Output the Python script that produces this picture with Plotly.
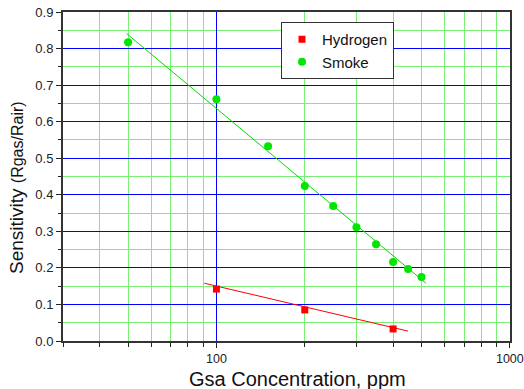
import numpy as np
import plotly.graph_objects as go

# ---- data ----
smoke_x = [50, 100, 150, 200, 250, 300, 350, 400, 450, 500]
smoke_y = [0.817, 0.661, 0.533, 0.424, 0.369, 0.311, 0.265, 0.216, 0.197, 0.175]
hydrogen_x = [100, 200, 400]
hydrogen_y = [0.142, 0.085, 0.033]
smoke_fit_x = [49.4, 518]
smoke_fit_y = [0.841, 0.158]
hydrogen_fit_x = [91, 450]
hydrogen_fit_y = [0.158, 0.027]
x_major_ticks = [100, 1000]
x_major_labels = ["100", "1000"]
x_minor_ticks = [30, 40, 50, 60, 70, 80, 90, 200, 300, 400, 500, 600, 700, 800, 900]

FONT = "Liberation Sans, Arial, sans-serif"
GREEN = "#00e600"
RED = "#ff0000"
GRID_GREEN = "rgb(120,240,120)"
GRID_BLUE = "#0000ff"

fig = go.Figure()
fig.add_trace(go.Scatter(x=smoke_fit_x, y=smoke_fit_y, mode="lines",
                         line=dict(color="#00dd00", width=1), showlegend=False, hoverinfo="skip"))
fig.add_trace(go.Scatter(x=hydrogen_fit_x, y=hydrogen_fit_y, mode="lines",
                         line=dict(color=RED, width=1), showlegend=False, hoverinfo="skip"))
fig.add_trace(go.Scatter(x=hydrogen_x, y=hydrogen_y, mode="markers", name="Hydrogen",
                         marker=dict(symbol="square", size=7, color=RED, line=dict(width=0))))
fig.add_trace(go.Scatter(x=smoke_x, y=smoke_y, mode="markers", name="Smoke",
                         marker=dict(symbol="circle", size=8, color=GREEN, line=dict(width=0))))

W, H = 524, 389
L, R, T, B = 63, 14, 12, 48
pw, ph = W - L - R, H - T - B

def px2paper_x(px):
    return (px - L) / pw

def px2paper_y(py):
    return (H - B - py) / ph

fig.update_layout(
    width=W, height=H,
    margin=dict(l=L, r=R, t=T, b=B, pad=0, autoexpand=False),
    paper_bgcolor="white", plot_bgcolor="white",
    font=dict(family=FONT, color="#222"),
    showlegend=True,
    legend=dict(x=px2paper_x(281), y=px2paper_y(22), xanchor="left", yanchor="top",
                bgcolor="white", bordercolor="#333", borderwidth=1,
                font=dict(size=15, family=FONT, color="#111"),
                tracegroupgap=0, itemwidth=30),
    xaxis=dict(
        type="log", range=[np.log10(30), 3.0005],
        automargin=False,
        tickmode="array", tickvals=x_major_ticks, ticktext=x_major_labels,
        ticks="outside", ticklen=5, tickwidth=1, tickcolor="#222",
        tickfont=dict(size=12.5, family=FONT, color="#222"),
        ticklabeloverflow="allow",
        showgrid=True, gridcolor=GRID_BLUE, gridwidth=1,
        showline=True, linecolor="#333", linewidth=2, mirror=True,
        zeroline=False,
        minor=dict(tickmode="array", tickvals=x_minor_ticks, ticks="outside", ticklen=4,
                   tickcolor="#222", tickwidth=1,
                   showgrid=True, gridcolor=GRID_GREEN, gridwidth=1),
    ),
    yaxis=dict(
        range=[0, 0.9], tickmode="linear", tick0=0, dtick=0.1, tickformat=".1f",
        automargin=False,
        ticks="outside", ticklen=5, tickwidth=1, tickcolor="#222",
        tickfont=dict(size=13, family=FONT, color="#222"),
        showgrid=True, gridcolor=GRID_BLUE, gridwidth=1,
        showline=True, linecolor="#333", linewidth=2, mirror=True,
        zeroline=False,
        minor=dict(dtick=0.05, tick0=0, ticks="outside", ticklen=3, tickcolor="#222", tickwidth=1,
                   showgrid=True, gridcolor=GRID_GREEN, gridwidth=1),
    ),
    annotations=[
        dict(text="Gsa Concentration, ppm", xref="paper", yref="paper",
             x=px2paper_x(297), y=px2paper_y(379), xanchor="center", yanchor="middle",
             showarrow=False, font=dict(size=20, family=FONT, color="#111")),
        dict(text="Sensitivity <span style='font-size:16px'>(Rgas/Rair)</span>",
             xref="paper", yref="paper", textangle=-90,
             x=px2paper_x(16), y=px2paper_y(188), xanchor="center", yanchor="middle",
             showarrow=False, font=dict(size=19, family=FONT, color="#111")),
    ],
)

fig.write_html("out.html")
